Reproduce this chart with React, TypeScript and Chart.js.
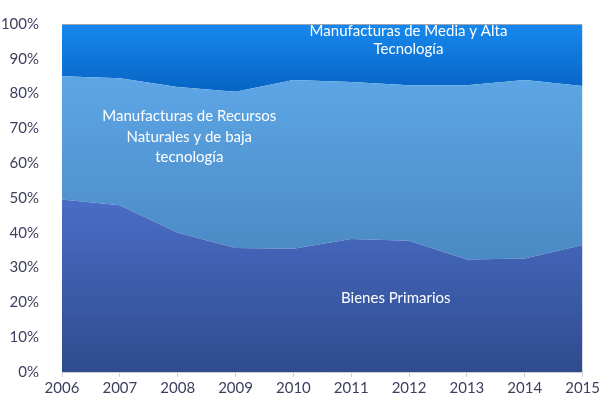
import React, { useEffect, useRef } from "react";
import { Chart, registerables } from "chart.js";

Chart.register(...registerables);

const years = ["2006", "2007", "2008", "2009", "2010", "2011", "2012", "2013", "2014", "2015"];
const bienesPrimarios = [49.6, 47.9, 40.0, 35.6, 35.4, 38.2, 37.7, 32.3, 32.6, 36.5];
const manufRecursos = [35.4, 36.5, 41.9, 44.9, 48.5, 45.1, 44.7, 50.1, 51.3, 45.7];
const manufMediaAlta = [14.7, 15.3, 17.8, 19.2, 15.8, 16.4, 17.3, 17.3, 15.8, 17.5];
const otros = [0.3, 0.3, 0.3, 0.3, 0.3, 0.3, 0.3, 0.3, 0.3, 0.3];
const yTicks = [0, 10, 20, 30, 40, 50, 60, 70, 80, 90, 100];

const FONT = "Lato, 'Open Sans', sans-serif";
const TEXT = "#3d3f5e";

function gradient(chart: any, topVal: number, botVal: number, c1: string, c2: string) {
  const y = chart.scales.y;
  const area = chart.chartArea;
  if (!y || !area) return c1;
  const top = y.getPixelForValue(topVal);
  const bot = y.getPixelForValue(botVal);
  const g = chart.ctx.createLinearGradient(0, top, 0, bot);
  g.addColorStop(0, c1);
  g.addColorStop(1, c2);
  return g;
}

const labelsPlugin = {
  id: "areaLabels",
  afterDatasetsDraw(chart: any) {
    const { ctx } = chart;
    const x = chart.scales.x;
    const y = chart.scales.y;
    ctx.save();
    ctx.fillStyle = "#ffffff";
    ctx.font = `15px ${FONT}`;
    ctx.textAlign = "center";
    ctx.textBaseline = "middle";
    const draw = (lines: string[], xv: number, yv: number, lh: number) => {
      const px = x.getPixelForValue(xv);
      const py = y.getPixelForValue(yv);
      lines.forEach((l, i) => ctx.fillText(l, px, py + i * lh));
    };
    draw(["Manufacturas de Media y Alta", "Tecnología"], 5.99, 98.0, 18.5);
    draw(["Manufacturas de Recursos", "Naturales y de baja", "tecnología"], 2.2, 73.4, 20.5);
    draw(["Bienes Primarios"], 5.77, 21.1, 0);
    ctx.restore();
  },
};

export default function App() {
  const ref = useRef<HTMLCanvasElement>(null);
  useEffect(() => {
    if (!ref.current) return;
    const cum2 = bienesPrimarios.map((v, i) => v + manufRecursos[i]);
    const chart = new Chart(ref.current, {
      type: "line",
      data: {
        labels: years,
        datasets: [
          {
            label: "Bienes Primarios",
            data: bienesPrimarios,
            fill: "origin",
            backgroundColor: (c: any) =>
              gradient(c.chart, Math.max(...bienesPrimarios), 0, "#4a6dc6", "#2f4b8e"),
            borderWidth: 0,
            pointRadius: 0,
          },
          {
            label: "Manufacturas de Recursos Naturales y de baja tecnología",
            data: manufRecursos,
            fill: "-1",
            backgroundColor: (c: any) =>
              gradient(c.chart, Math.max(...cum2), Math.min(...bienesPrimarios), "#5da6e6", "#4a8ac4"),
            borderWidth: 0,
            pointRadius: 0,
          },
          {
            label: "Manufacturas de Media y Alta Tecnología",
            data: manufMediaAlta,
            fill: "-1",
            backgroundColor: (c: any) =>
              gradient(c.chart, 100, Math.min(...cum2), "#1788ee", "#0764c4"),
            borderWidth: 0,
            pointRadius: 0,
          },
          {
            label: "Otros",
            data: otros,
            fill: "-1",
            backgroundColor: "#9aa4b4",
            borderWidth: 0,
            pointRadius: 0,
          },
        ],
      },
      options: {
        animation: false,
        responsive: false,
        maintainAspectRatio: false,
        layout: { padding: { top: 19, right: 17, left: 0, bottom: 0 } },
        plugins: { legend: { display: false }, tooltip: { enabled: false } },
        elements: { line: { tension: 0 } },
        scales: {
          x: {
            offset: false,
            grid: { display: true, drawOnChartArea: false, tickLength: 5, color: "#d0d0d0" },
            border: { display: true, color: "#d0d0d0" },
            ticks: { color: TEXT, font: { family: FONT, size: 15 }, padding: 2, maxRotation: 0 },
            afterFit: (s: any) => {
              s.height = 28;
            },
          },
          y: {
            stacked: true,
            min: 0,
            max: 100,
            afterBuildTicks: (s: any) => {
              s.ticks = yTicks.map((v) => ({ value: v }));
            },
            grid: { display: false },
            border: { display: false },
            ticks: {
              color: TEXT,
              font: { family: FONT, size: 15 },
              padding: 15,
              callback: (v: any) => v + "%",
            },
            afterFit: (s: any) => {
              s.width = 62;
            },
          },
        },
      },
      plugins: [labelsPlugin],
    });
    return () => chart.destroy();
  }, []);
  return (
    <div style={{ position: "fixed", left: 0, top: 0, width: 602, height: 400, background: "#fff" }}>
      <canvas ref={ref} width={602} height={400} />
    </div>
  );
}
